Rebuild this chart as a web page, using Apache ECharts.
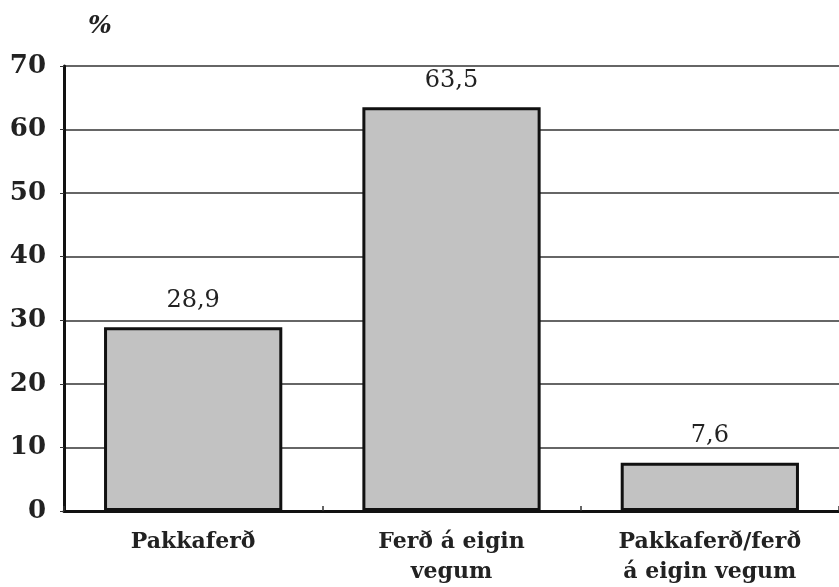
<!DOCTYPE html>
<html>
<head>
<meta charset="utf-8">
<script src="https://cdn.jsdelivr.net/npm/echarts@6/dist/echarts.min.js"></script>
<style>
  html, body { margin: 0; padding: 0; background: #fff; }
  #chart { width: 839px; height: 587px; }
</style>
</head>
<body>
<div id="chart"></div>
<script>
// ferðamáti - hlutfall (%)
const categories = ['Pakkaferð', 'Ferð á eigin\nvegum', 'Pakkaferð/ferð\ná eigin vegum'];
const shares = [28.9, 63.5, 7.6];
const yTicks = [0, 10, 20, 30, 40, 50, 60, 70];

const serif = '"DejaVu Serif", "Liberation Serif", serif';

const chart = echarts.init(document.getElementById('chart'), null, { renderer: 'canvas' });

chart.setOption({
  animation: false,
  backgroundColor: '#ffffff',
  grid: { left: 64, right: -10, top: 66, bottom: 74 },
  graphic: [{
    type: 'text',
    left: 88, top: 14,
    style: { text: '%', font: 'italic bold 25px ' + serif, fill: '#222' }
  }],
  xAxis: {
    type: 'category',
    data: categories,
    axisLine: { lineStyle: { color: '#111', width: 3 } },
    axisTick: { show: true, inside: true, length: 5, lineStyle: { color: '#333', width: 1.5 } },
    axisLabel: {
      margin: 16,
      fontFamily: serif, fontWeight: 'bold', fontSize: 22, color: '#222',
      lineHeight: 30
    }
  },
  yAxis: {
    type: 'value',
    min: yTicks[0], max: yTicks[yTicks.length - 1], interval: 10,
    axisLine: { show: true, lineStyle: { color: '#111', width: 3 } },
    axisTick: { show: true, length: 4, lineStyle: { color: '#333' } },
    axisLabel: {
      margin: 18,
      fontFamily: serif, fontWeight: 'bold', fontSize: 26, color: '#222'
    },
    splitLine: { lineStyle: { color: '#333', width: 1.5 } }
  },
  series: [{
    type: 'bar',
    data: shares,
    barWidth: '69%',
    itemStyle: { color: '#c2c2c2', borderColor: '#111', borderWidth: 3 },
    label: {
      show: true, position: 'top', distance: 15,
      fontFamily: serif, fontSize: 24, color: '#222',
      formatter: p => String(p.value).replace('.', ',')
    }
  }]
});
</script>
</body>
</html>
